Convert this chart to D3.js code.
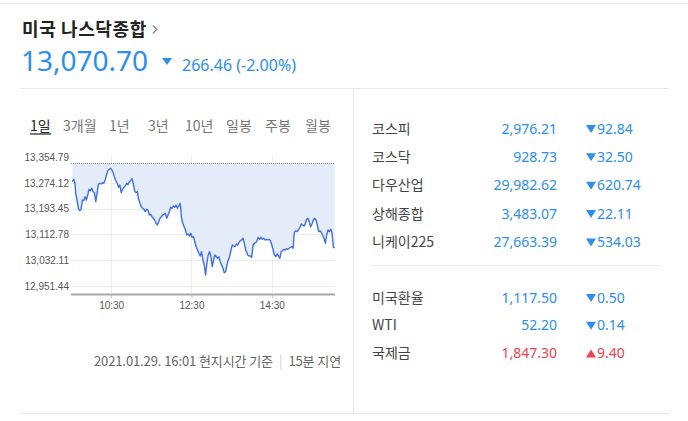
<!DOCTYPE html>
<html>
<head>
<meta charset="utf-8">
<title>미국 나스닥종합</title>
<script src="https://d3js.org/d3.v7.min.js"></script>
<style>
    body { margin: 0; background: #fff; }
    svg { display: block; font-family: "Noto Sans", "Noto Sans CJK KR", sans-serif; }
    .kr { font-family: "Noto Sans CJK KR", sans-serif; }
    .axis text { font-family: "Liberation Sans", sans-serif; font-size: 10px; fill: #555; }
</style>
</head>
<body>
<script>
    // header values
    const indexName = "미국 나스닥종합";
    const lastPrice = "13,070.70";
    const changeText = "266.46 (-2.00%)";
    const prevClose = 13337.16;

    const tabs = ["1일", "3개월", "1년", "3년", "10년", "일봉", "주봉", "월봉"];

    // intraday series: minutes after 09:30, price
    const minutes = [2, 4, 6, 7, 9, 11, 13, 15, 17, 19, 21, 23, 25, 27, 29, 31, 33, 35, 37, 39,
        41, 43, 45, 47, 49, 51, 53, 55, 57, 59, 61, 63, 65, 67, 69, 71, 73, 75, 77, 79,
        81, 83, 85, 87, 89, 91, 93, 95, 97, 99, 101, 103, 105, 107, 109, 111, 113, 115, 117, 119,
        121, 123, 125, 127, 129, 131, 133, 135, 137, 139, 141, 143, 145, 147, 149, 151, 153, 155, 157, 159,
        161, 163, 164, 165, 167, 169, 171, 173, 175, 177, 179, 181, 183, 185, 187, 189, 191, 193, 195, 197,
        199, 201, 203, 205, 207, 209, 211, 213, 215, 217, 219, 221, 223, 225, 227, 229, 231, 233, 235, 237,
        239, 241, 243, 245, 247, 249, 251, 253, 255, 257, 259, 261, 263, 264, 266, 268, 270, 272, 274, 276,
        278, 280, 282, 284, 286, 288, 290, 292, 294, 296, 298, 300, 302, 304, 306, 308, 310, 312, 314, 316,
        318, 320, 322, 324, 326, 328, 330, 332, 333, 334, 336, 338, 340, 342, 344, 346, 348, 350, 352, 354,
        356, 358, 360, 362, 364, 366, 368, 370, 372, 374, 376, 378, 380, 382, 384, 386, 388, 390, 392, 394];
    const prices = [13277.56, 13285.06, 13272.55, 13241.29, 13220.34, 13194.38, 13186.88, 13191.26, 13220.34, 13218.15,
        13230.65, 13220.34, 13235.97, 13253.79, 13249.41, 13256.92, 13246.29, 13243.16, 13215.02, 13241.29,
        13270.36, 13272.55, 13270.36, 13274.43, 13272.55, 13282.87, 13298.50, 13311.95, 13316.33, 13319.45,
        13314.14, 13305.69, 13291.31, 13280.68, 13272.55, 13260.05, 13267.24, 13243.16, 13253.79, 13260.05,
        13264.11, 13272.55, 13268.17, 13276.62, 13280.68, 13286.93, 13272.55, 13249.41, 13243.16, 13246.29,
        13222.53, 13210.02, 13199.39, 13194.38, 13191.26, 13183.75, 13191.26, 13189.07, 13173.44, 13175.62,
        13168.12, 13163.12, 13157.80, 13147.48, 13142.17, 13152.49, 13163.12, 13168.12, 13173.44, 13175.62,
        13178.75, 13163.12, 13173.44, 13183.75, 13197.51, 13194.38, 13201.58, 13197.51, 13204.70, 13194.38,
        13201.58, 13210.02, 13194.38, 13163.12, 13147.48, 13136.85, 13126.54, 13110.90, 13114.03, 13107.78,
        13116.22, 13103.71, 13105.59, 13089.95, 13074.32, 13064.00, 13053.68, 13045.24, 13058.69, 13032.73,
        13017.10, 12985.83, 13022.42, 13048.37, 13058.69, 13043.05, 13011.79, 13032.73, 13048.37, 13043.05,
        13038.05, 13043.05, 13027.42, 13017.10, 13006.78, 12993.03, 12996.15, 13017.10, 13032.73, 13043.05,
        13064.00, 13079.63, 13076.51, 13074.32, 13082.76, 13079.63, 13086.83, 13093.08, 13095.27, 13100.58,
        13084.95, 13064.00, 13053.68, 13048.37, 13045.24, 13045.24, 13041.18, 13079.63, 13084.95, 13086.83,
        13093.08, 13103.71, 13097.46, 13103.71, 13097.46, 13100.58, 13095.27, 13097.46, 13095.27, 13097.46,
        13093.08, 13079.63, 13064.00, 13048.37, 13043.05, 13051.49, 13045.24, 13038.05, 13058.69, 13061.81,
        13066.19, 13064.00, 13068.07, 13066.19, 13069.32, 13072.44, 13074.32, 13069.32, 13105.59, 13121.22,
        13124.35, 13121.22, 13128.72, 13134.98, 13145.30, 13142.17, 13139.04, 13145.30, 13159.99, 13163.12,
        13152.49, 13136.85, 13145.30, 13157.80, 13163.12, 13157.80, 13142.17, 13121.22, 13124.35, 13118.09,
        13110.90, 13100.58, 13084.95, 13110.90, 13126.54, 13121.22, 13128.72, 13116.22, 13072.44, 13070.70];

    const yTicks = [12951.44, 13032.11, 13112.78, 13193.45, 13274.12, 13354.79];
    const xTicks = [60, 180, 300];
    const xTickLabels = ["10:30", "12:30", "14:30"];

    const footerDate = "2021.01.29. 16:01 현지시간 기준";
    const footerDelay = "15분 지연";

    // right panel
    const indexNames = ["코스피", "코스닥", "다우산업", "상해종합", "니케이225"];
    const indexValues = ["2,976.21", "928.73", "29,982.62", "3,483.07", "27,663.39"];
    const indexChanges = ["92.84", "32.50", "620.74", "22.11", "534.03"];
    const indexDirs = ["down", "down", "down", "down", "down"];

    const otherNames = ["미국환율", "WTI", "국제금"];
    const otherValues = ["1,117.50", "52.20", "1,847.30"];
    const otherChanges = ["0.50", "0.14", "9.40"];
    const otherDirs = ["down", "down", "up"];

    const blue = "#2b8ef0";
    const red = "#f2404f";

    const svg = d3.select("body").append("svg")
        .attr("width", 688)
        .attr("height", 421);

    // frame lines
    const frame = svg.append("g").attr("stroke", "#e6e6e6").attr("stroke-width", 1);
    frame.append("line").attr("x1", 0).attr("x2", 688).attr("y1", 3.5).attr("y2", 3.5);
    frame.append("line").attr("x1", 21).attr("x2", 669).attr("y1", 88.5).attr("y2", 88.5);
    frame.append("line").attr("x1", 21).attr("x2", 669).attr("y1", 413.5).attr("y2", 413.5);
    frame.append("line").attr("x1", 353.5).attr("x2", 353.5).attr("y1", 89).attr("y2", 413);

    // header
    const title = svg.append("text").attr("class", "kr")
        .attr("x", 22).attr("y", 36)
        .attr("font-size", 18).attr("font-weight", "bold").attr("letter-spacing", 0.6).attr("fill", "#222")
        .text(indexName);
    const tx = 22 + title.node().getComputedTextLength() + 6;
    svg.append("path")
        .attr("d", `M${tx},25.5 L${tx + 4},29.5 L${tx},33.5`)
        .attr("fill", "none").attr("stroke", "#888").attr("stroke-width", 1.2);

    svg.append("text")
        .attr("x", 21).attr("y", 71)
        .attr("font-size", 28).attr("fill", blue)
        .text(lastPrice);

    const tri = (cx, top, w, h, up) => up
        ? `M${cx},${top} L${cx + w / 2},${top + h} L${cx - w / 2},${top + h}Z`
        : `M${cx - w / 2},${top} L${cx + w / 2},${top} L${cx},${top + h}Z`;

    svg.append("path").attr("d", tri(167, 58, 10, 7, false)).attr("fill", blue);
    svg.append("text")
        .attr("x", 182).attr("y", 71)
        .attr("font-size", 16).attr("fill", blue)
        .text(changeText);

    // period tabs
    const tabX = [30, 63, 109, 148, 185, 226, 265, 305];
    svg.append("g").selectAll("text")
        .data(tabs)
        .join("text")
        .attr("class", "kr")
        .attr("x", (d, i) => tabX[i])
        .attr("y", 131)
        .attr("font-size", 14)
        .attr("fill", (d, i) => i === 0 ? "#222" : "#777")
        .text(d => d);
    svg.append("line")
        .attr("x1", 30).attr("x2", 51).attr("y1", 134).attr("y2", 134)
        .attr("stroke", "#222").attr("stroke-width", 1.2);

    // chart
    const x = d3.scaleLinear().domain([0, 395]).range([71, 335.4]);
    const y = d3.scaleLinear().domain([yTicks[0], yTicks[yTicks.length - 1]]).range([286, 157]);
    const data = minutes.map((m, i) => ({ m, v: prices[i] }));

    const grid = svg.append("g").attr("stroke", "#ececec").attr("stroke-width", 1);
    grid.selectAll("line.h")
        .data(yTicks.slice(0, -1))
        .join("line").attr("class", "h")
        .attr("x1", 71).attr("x2", 335)
        .attr("y1", d => Math.round(y(d)) + 0.5).attr("y2", d => Math.round(y(d)) + 0.5);
    grid.selectAll("line.v")
        .data(xTicks)
        .join("line").attr("class", "v")
        .attr("x1", d => Math.round(x(d)) + 0.5).attr("x2", d => Math.round(x(d)) + 0.5)
        .attr("y1", 155).attr("y2", 293);

    svg.append("path")
        .datum(data)
        .attr("fill", "#e4ecfa")
        .attr("d", d3.area().x(d => x(d.m)).y0(y(prevClose)).y1(d => y(d.v)));

    svg.append("line")
        .attr("x1", 71).attr("x2", 335)
        .attr("y1", Math.round(y(prevClose)) + 0.5).attr("y2", Math.round(y(prevClose)) + 0.5)
        .attr("stroke", "#8a8a8a").attr("stroke-dasharray", "1,1");

    svg.append("path")
        .datum(data)
        .attr("fill", "none")
        .attr("stroke", "#3f70e4")
        .attr("stroke-width", 1.4)
        .attr("stroke-linejoin", "round")
        .attr("d", d3.line().x(d => x(d.m)).y(d => y(d.v)));

    const yAxis = svg.append("g").attr("class", "axis")
        .attr("transform", "translate(71,0)")
        .call(d3.axisLeft(y).tickValues(yTicks).tickFormat(d3.format(",.2f")).tickSize(0).tickPadding(2));
    yAxis.select(".domain").remove();

    const xAxis = svg.append("g").attr("class", "axis")
        .attr("transform", "translate(0,294)")
        .call(d3.axisBottom(x).tickValues(xTicks).tickFormat((d, i) => xTickLabels[i]).tickSize(4).tickSizeOuter(0).tickPadding(4));
    xAxis.select(".domain").attr("stroke", "#a8a8a8").attr("stroke-width", 2.2).attr("d", "M71,0.5H335");
    xAxis.selectAll(".tick line").attr("stroke", "#bbb");

    // footer
    const footer = svg.append("text").attr("class", "kr")
        .attr("x", 341).attr("y", 366)
        .attr("text-anchor", "end")
        .attr("font-size", 13).attr("letter-spacing", -0.1).attr("fill", "#666");
    footer.append("tspan").text(footerDate);
    footer.append("tspan").attr("dx", 6).attr("fill", "#ccc").text("|");
    footer.append("tspan").attr("dx", 6).text(footerDelay);

    // right table
    function drawRows(names, values, changes, dirs, y0, step) {
        const g = svg.append("g");
        const rows = g.selectAll("g")
            .data(names)
            .join("g")
            .attr("transform", (d, i) => `translate(0,${y0 + i * step})`);
        rows.append("text").attr("class", "kr")
            .attr("x", 372).attr("y", 0)
            .attr("font-size", 14).attr("fill", "#444")
            .text(d => d);
        rows.append("text")
            .attr("x", 557).attr("y", 0)
            .attr("text-anchor", "end")
            .attr("font-size", 14)
            .attr("fill", (d, i) => dirs[i] === "up" ? red : blue)
            .text((d, i) => values[i]);
        rows.append("path")
            .attr("d", (d, i) => tri(591, -8.5, 10, 8, dirs[i] === "up"))
            .attr("fill", (d, i) => dirs[i] === "up" ? red : blue);
        rows.append("text")
            .attr("x", 597).attr("y", 0)
            .attr("font-size", 14)
            .attr("fill", (d, i) => dirs[i] === "up" ? red : blue)
            .text((d, i) => changes[i]);
    }
    drawRows(indexNames, indexValues, indexChanges, indexDirs, 133.5, 28.35);
    svg.append("line")
        .attr("x1", 370).attr("x2", 662).attr("y1", 265.5).attr("y2", 265.5)
        .attr("stroke", "#ececec");
    drawRows(otherNames, otherValues, otherChanges, otherDirs, 302.5, 27.8);
</script>
</body>
</html>
